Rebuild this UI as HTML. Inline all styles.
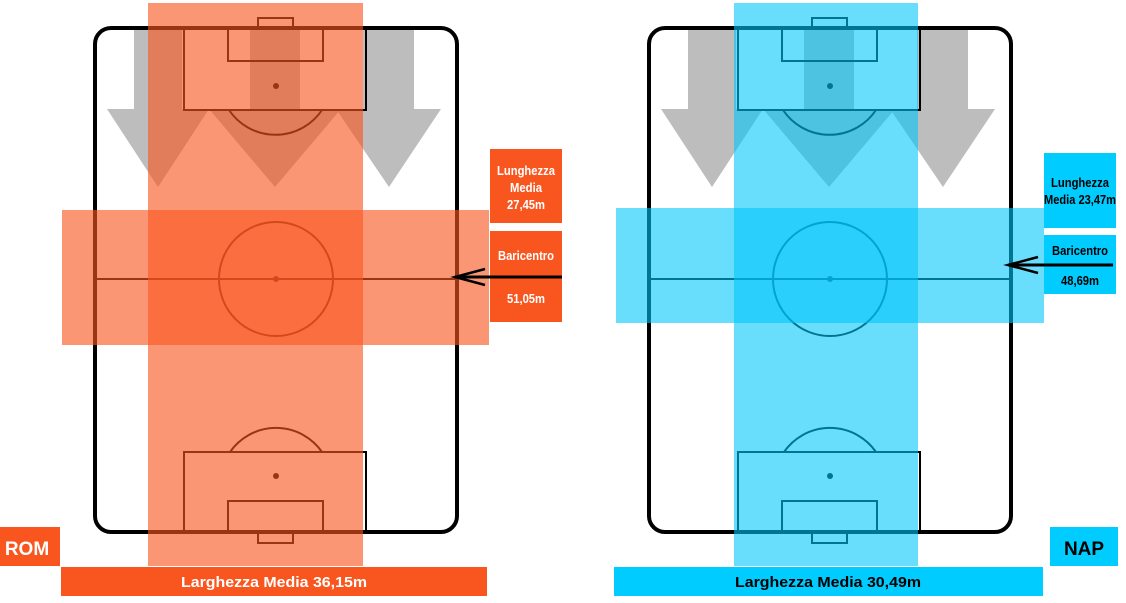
<!DOCTYPE html>
<html><head><meta charset="utf-8"><style>
html,body{margin:0;padding:0;background:#fff;width:1126px;height:603px;overflow:hidden}
svg{display:block}
text{font-family:"Liberation Sans",sans-serif;font-weight:bold}
</style></head><body>
<svg width="1126" height="603" viewBox="0 0 1126 603" xmlns="http://www.w3.org/2000/svg">
<defs>
<g id="arrows" fill="#bdbdbd">
  <polygon points="134,30 182,30 182,109 209,109 158,187 107,109 134,109"/>
  <polygon points="250,30 300,30 300,109 341,109 275,187 209,109 250,109"/>
  <polygon points="363,30 414,30 414,109 441,109 389,187 336,109 363,109"/>
</g>
<g id="pitch" fill="none" stroke="#000">
  <rect x="95" y="28" width="362" height="504" rx="16" ry="16" stroke-width="4"/>
  <g stroke-width="2">
    <line x1="95" y1="279" x2="457" y2="279"/>
    <circle cx="276" cy="279" r="57"/>
    <rect x="184" y="28" width="182" height="82"/>
    <rect x="228" y="28" width="95" height="33"/>
    <rect x="258" y="18" width="35" height="10"/>
    <path d="M229,110 A56,56 0 0 0 322,110"/>
    <rect x="184" y="452" width="182" height="80"/>
    <rect x="228" y="501" width="95" height="31"/>
    <rect x="258" y="532" width="35" height="11"/>
    <path d="M230,452 A56,56 0 0 1 322,452"/>
  </g>
  <circle cx="276" cy="86" r="3" fill="#000" stroke="none"/>
  <circle cx="276" cy="279" r="3" fill="#000" stroke="none"/>
  <circle cx="276" cy="476" r="3" fill="#000" stroke="none"/>
</g>
</defs>

<!-- LEFT -->
<use href="#arrows"/>
<use href="#pitch"/>
<g fill="#f85520" fill-opacity="0.62">
  <rect x="148" y="3" width="215" height="563"/>
  <rect x="62" y="210" width="427" height="135"/>
</g>
<rect x="490" y="149" width="72" height="74" fill="#f9561f"/>
<rect x="490" y="231" width="72" height="91" fill="#f9561f"/>
<g fill="#fff" font-size="13" text-anchor="middle">
  <text x="526" y="175" textLength="58" lengthAdjust="spacingAndGlyphs">Lunghezza</text>
  <text x="526" y="192" textLength="32" lengthAdjust="spacingAndGlyphs">Media</text>
  <text x="526" y="209" textLength="38" lengthAdjust="spacingAndGlyphs">27,45m</text>
  <text x="526" y="260" textLength="56" lengthAdjust="spacingAndGlyphs">Baricentro</text>
  <text x="526" y="303" textLength="38" lengthAdjust="spacingAndGlyphs">51,05m</text>
</g>
<g stroke="#000" stroke-width="3" fill="none">
  <line x1="562" y1="277" x2="455" y2="277"/>
  <polyline points="485,269 455,277 485,285" stroke-width="2.5"/>
</g>
<rect x="0" y="527" width="60" height="39" fill="#f9561f"/>
<text x="27" y="555" fill="#fff" font-size="19" text-anchor="middle">ROM</text>
<rect x="61" y="567" width="426" height="29" fill="#f9561f"/>
<text x="274" y="587" fill="#fff" font-size="15" text-anchor="middle" textLength="186" lengthAdjust="spacingAndGlyphs">Larghezza Media 36,15m</text>

<!-- RIGHT -->
<g transform="translate(554,0)">
  <use href="#arrows"/>
  <use href="#pitch"/>
</g>
<g fill="#00c6fa" fill-opacity="0.59">
  <rect x="734" y="3" width="184" height="563"/>
  <rect x="616" y="208" width="428" height="115"/>
</g>
<rect x="1044" y="153" width="72" height="75" fill="#00ccff"/>
<rect x="1044" y="235" width="72" height="59" fill="#00ccff"/>
<g fill="#000" font-size="13" text-anchor="middle">
  <text x="1080" y="187" textLength="58" lengthAdjust="spacingAndGlyphs">Lunghezza</text>
  <text x="1080" y="204" textLength="72" lengthAdjust="spacingAndGlyphs">Media 23,47m</text>
  <text x="1080" y="255" textLength="56" lengthAdjust="spacingAndGlyphs">Baricentro</text>
  <text x="1080" y="285" textLength="38" lengthAdjust="spacingAndGlyphs">48,69m</text>
</g>
<g stroke="#000" stroke-width="3" fill="none">
  <line x1="1113" y1="265" x2="1008" y2="265"/>
  <polyline points="1038,257 1008,265 1038,273" stroke-width="2.5"/>
</g>
<rect x="1050" y="527" width="68" height="39" fill="#00ccff"/>
<text x="1084" y="555" fill="#000" font-size="19" text-anchor="middle">NAP</text>
<rect x="614" y="567" width="429" height="29" fill="#00ccff"/>
<text x="828" y="587" fill="#000" font-size="15" text-anchor="middle" textLength="186" lengthAdjust="spacingAndGlyphs">Larghezza Media 30,49m</text>
</svg>
</body></html>
